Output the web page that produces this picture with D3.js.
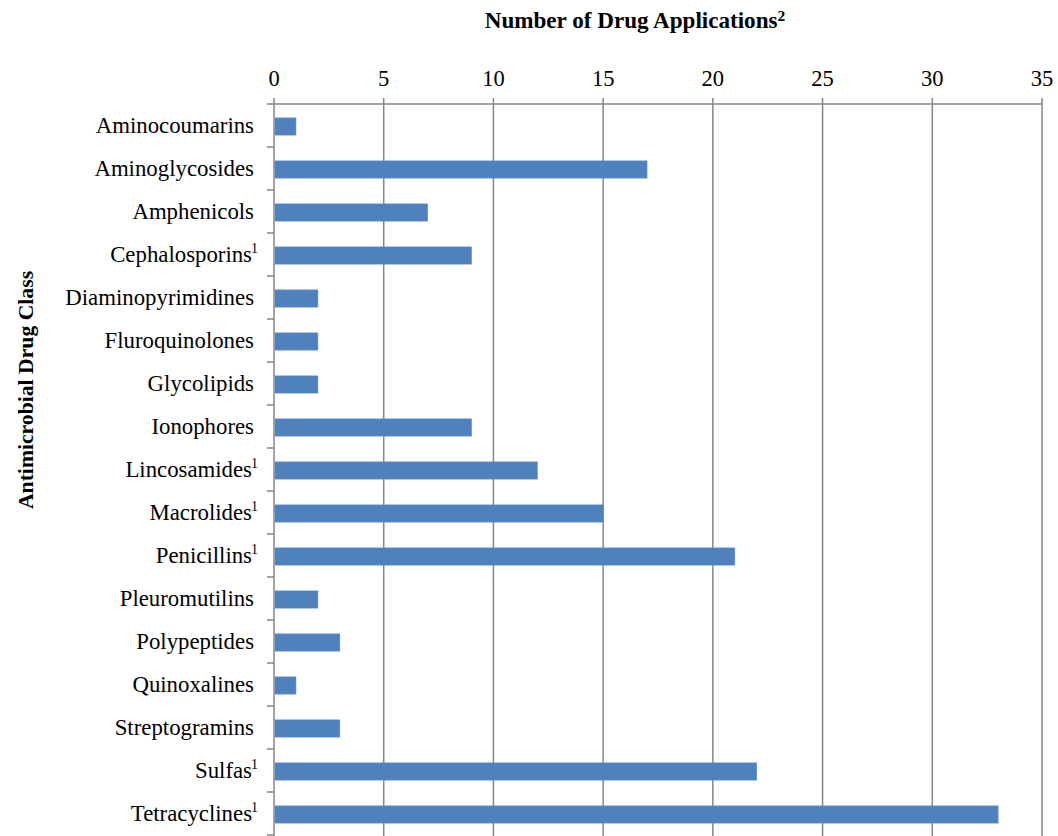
<!DOCTYPE html>
<html><head><meta charset="utf-8">
<script src="https://cdn.jsdelivr.net/npm/d3@7"></script>
<style>body{margin:0;background:#fff}svg{display:block}</style>
</head><body>
<svg id="c" width="1058" height="836"></svg>
<script>
const categories = ["Aminocoumarins","Aminoglycosides","Amphenicols","Cephalosporins","Diaminopyrimidines","Fluroquinolones","Glycolipids","Ionophores","Lincosamides","Macrolides","Penicillins","Pleuromutilins","Polypeptides","Quinoxalines","Streptogramins","Sulfas","Tetracyclines"];
const values = [1,17,7,9,2,2,2,9,12,15,21,2,3,1,3,22,33];
const footnoted = [false,false,false,true,false,false,false,false,true,true,true,false,false,false,false,true,true];
const xTicks = [0,5,10,15,20,25,30,35];
const xTitle = "Number of Drug Applications";
const yTitle = "Antimicrobial Drug Class";

const svg = d3.select("#c");
const pL = 274, pR = 1042, pT = 104, pB = 835;
const x = d3.scaleLinear().domain([0,35]).range([pL,pR]);
const y = d3.scaleBand().domain(categories).range([pT,pB]).paddingInner(0.6).paddingOuter(0.3);
const yb = d3.scaleBand().domain(categories).range([pT,pB]);
const font = "'Liberation Serif','Times New Roman',serif";
const grid = "#868686";

// gridlines
svg.append("g").selectAll("line").data(xTicks).join("line")
  .attr("x1",d=>x(d)).attr("x2",d=>x(d)).attr("y1",pT-6).attr("y2",pB+1)
  .attr("stroke",grid).attr("stroke-width",1.5);
// top axis line
svg.append("line").attr("x1",pL-7).attr("x2",pR).attr("y1",pT).attr("y2",pT)
  .attr("stroke",grid).attr("stroke-width",1.5);
// left axis ticks
const bounds = categories.map(c=>yb(c)+yb.bandwidth());
svg.append("g").selectAll("line").data(bounds).join("line")
  .attr("x1",pL-7).attr("x2",pL).attr("y1",d=>d).attr("y2",d=>d)
  .attr("stroke",grid).attr("stroke-width",1.5);

// bars
svg.append("g").selectAll("rect").data(values).join("rect")
  .attr("x",x(0)+1).attr("width",d=>x(d)-x(0)-1)
  .attr("y",(d,i)=>y(categories[i])+1).attr("height",y.bandwidth())
  .attr("fill","#4F81BD").attr("stroke","#5d8dc6").attr("stroke-width",0.6);

// tick labels
svg.append("g").selectAll("text").data(xTicks).join("text")
  .attr("x",d=>x(d)).attr("y",86).attr("text-anchor","middle")
  .attr("font-family",font).attr("font-size",22.5).attr("fill","#000").text(d=>d);

// category labels
const lab = svg.append("g").selectAll("text").data(categories).join("text")
  .attr("x",(d,i)=>footnoted[i]?258:254).attr("y",d=>yb(d)+yb.bandwidth()/2+7.5)
  .attr("text-anchor","end").attr("font-family",font).attr("font-size",22.8).attr("fill","#000");
lab.append("tspan").text(d=>d);
lab.filter((d,i)=>footnoted[i]).append("tspan").attr("font-size",14).attr("dx",-1).attr("dy",-9).text("1");

// x title
const t = svg.append("text").attr("x",635).attr("y",28).attr("text-anchor","middle")
  .attr("font-family",font).attr("font-size",23.1).attr("font-weight","bold");
t.append("tspan").text(xTitle);
t.append("tspan").attr("font-size",15.5).attr("dy",-7).text("2");

// y title
svg.append("text").attr("transform","translate(33,390) rotate(-90)").attr("text-anchor","middle")
  .attr("font-family",font).attr("font-size",21.7).attr("font-weight","bold").text(yTitle);
</script>
</body></html>
